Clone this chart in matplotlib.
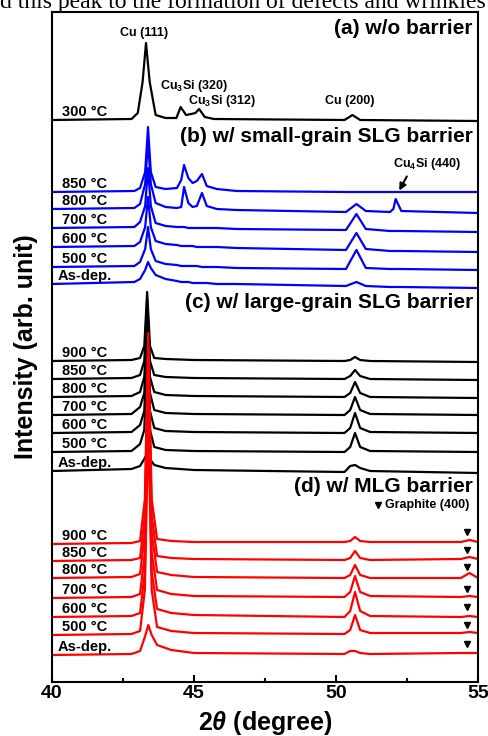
import matplotlib
matplotlib.use("Agg")
import matplotlib.pyplot as plt

plt.rcParams['font.family'] = ['Liberation Sans', 'DejaVu Sans']
plt.rcParams['font.weight'] = 'bold'
plt.rcParams['mathtext.fontset'] = 'custom'
plt.rcParams['mathtext.rm'] = 'Liberation Sans:bold'
plt.rcParams['mathtext.bf'] = 'Liberation Sans:bold'
plt.rcParams['mathtext.it'] = 'Liberation Sans:italic:bold'

# ---- data (2theta in degree, intensity in arb. unit) ----
# (a) w/o barrier
x_a = [40.0, 42.8, 43.02, 43.19, 43.31, 43.44, 43.65, 44.0, 44.38, 44.53, 44.72, 44.9,
       45.05, 45.18, 45.38, 45.7, 50.3, 50.58, 50.85, 55.0]
temps_a = ["300 °C"]
off_a = [562]
int_a = [[0, 1, 7, 38, 77, 38, 5, 2, 2, 13, 5, 6, 7, 11, 3, 1, 0, 5, 0, -1]]

# (b) w/ small-grain SLG barrier
x_b = [40.0, 42.9, 43.1, 43.28, 43.38, 43.48, 43.65, 44.0, 44.4,
       44.55, 44.65, 44.8, 44.95, 45.1, 45.28, 45.45, 45.8, 46.5,
       50.35, 50.72, 51.05, 51.9, 52.02, 52.1, 52.3, 55.0]
temps_b = ["850 °C", "800 °C", "700 °C", "600 °C", "500 °C", "As-dep."]
off_b = [490, 473, 454, 435, 415, 398]
int_b = [
    [0, 1, 4, 20, 65, 20, 5, 3, 4, 12, 27, 14, 9, 11, 18, 6, 3, 1, 0, 0, 0, 0, 0, 0, 0, 0],
    [0, 1, 5, 25, 69, 25, 6, 2, 1, 2, 22, 6, 2, 3, 16, 3, 0, -1, -3, 5, -2, -3, 0, 10, -2, -4],
    [0, 1, 6, 22, 60, 22, 5, 2, 1, 1, 1, 0, 0, 0, 0, 0, 0, -1, -2, 14, -1, -3, -3, -3, -3, -4],
    [0, 1, 5, 20, 50, 20, 6, 3, 2, 1, 1, 1, 1, 0, 0, 0, 0, -1, -3, 14, -2, -4, -4, -4, -4, -5],
    [0, 1, 5, 18, 40, 18, 6, 3, 2, 1, 1, 1, 1, 1, 0, 0, 0, -1, -2, 17, -1, -2, -2, -2, -2, -3],
    [0, 2, 5, 14, 22, 16, 9, 5, 3, 2, 2, 2, 1, 1, 1, 1, 0, 0, -2, 2, -2, -3, -3, -3, -3, -4],
]

# (c) w/ large-grain SLG barrier
x_c = [40.0, 42.8, 43.1, 43.25, 43.35, 43.45, 43.6, 44.0, 45.0,
       50.3, 50.5, 50.67, 50.85, 51.2, 55.0]
temps_c = ["900 °C", "850 °C", "800 °C", "700 °C", "600 °C", "500 °C", "As-dep."]
off_c = [321, 303, 285, 267, 249, 230, 211]
int_c = [
    [0, 1, 3, 15, 69, 15, 3, 2, 1, 0, 1, 4, 1, 0, -1],
    [0, 1, 4, 18, 80, 18, 4, 2, 1, 0, 3, 9, 3, 0, -1],
    [0, 1, 5, 20, 85, 20, 5, 2, 1, 0, 4, 15, 4, 0, -1],
    [0, 1, 8, 22, 90, 22, 5, 2, 1, 0, 5, 18, 5, 1, 0],
    [0, 1, 8, 22, 95, 22, 5, 2, 1, 0, 5, 20, 5, 1, 0],
    [0, 1, 8, 22, 100, 22, 5, 2, 1, 0, 5, 19, 5, 1, 0],
    [0, 2, 5, 12, 18, 12, 6, 3, 1, -1, 5, 6, 3, 0, -2],
]

# (d) w/ MLG barrier
x_d = [40.0, 42.8, 43.1, 43.27, 43.39, 43.51, 43.7, 44.2, 45.0,
       50.3, 50.5, 50.67, 50.85, 51.2, 54.4, 54.7, 55.0]
temps_d = ["900 °C", "850 °C", "800 °C", "700 °C", "600 °C", "500 °C", "As-dep."]
off_d = [138, 121, 104, 84, 65, 47, 27]
int_d = [
    [0, 1, 3, 45, 211, 45, 5, 3, 2, 2, 3, 7, 3, 2, 2, 4, 2],
    [0, 1, 3, 45, 214, 45, 5, 3, 2, 1, 3, 10, 3, 1, 2, 4, 2],
    [0, 1, 4, 45, 216, 45, 6, 3, 1, 0, 3, 13, 3, 0, 0, 5, 0],
    [0, 1, 4, 45, 216, 45, 8, 4, 2, 1, 6, 22, 6, 2, 1, 2, 1],
    [0, 1, 4, 45, 215, 45, 8, 4, 2, 0, 6, 25, 6, 1, 0, 1, 0],
    [0, 1, 4, 45, 213, 45, 8, 4, 2, 1, 5, 20, 5, 2, 2, 3, 2],
    [0, 1, 4, 18, 30, 20, 10, 5, 2, 1, 4, 4, 2, 1, 2, 2, 2],
]
graphite_x = 54.6
graphite_y = [150, 132, 115, 93, 75, 57, 38]

panels = [
    (x_a, temps_a, off_a, int_a, 'black', "(a) w/o barrier", 654),
    (x_b, temps_b, off_b, int_b, '#0000ff', "(b) w/ small-grain SLG barrier", 545),
    (x_c, temps_c, off_c, int_c, 'black', "(c) w/ large-grain SLG barrier", 379),
    (x_d, temps_d, off_d, int_d, '#ff0000', "(d) w/ MLG barrier", 196),
]

fig = plt.figure(figsize=(4.88, 7.36), dpi=100)
ax = fig.add_axes([52 / 488, 54 / 736, 426 / 488, 670 / 736])

for x, temps, offs, ints, color, title, ty in panels:
    for lab, off, yy in zip(temps, offs, ints):
        ax.plot(x, [off + v for v in yy], color=color, lw=1.6)
        ax.text(41.14, off + 8, lab, ha='center', va='center', fontsize=10.5,
                fontweight='bold')
    ax.text(54.82, ty, title, ha='right', va='center', fontsize=15, fontweight='bold')

# peak labels
ax.text(43.24, 649, "Cu (111)", ha='center', va='center', fontsize=9)
ax.text(45.0, 596, "Cu$_3$Si (320)", ha='center', va='center', fontsize=9)
ax.text(45.99, 581, "Cu$_3$Si (312)", ha='center', va='center', fontsize=9)
ax.text(50.49, 581, "Cu (200)", ha='center', va='center', fontsize=9)
ax.text(53.2, 518, "Cu$_4$Si (440)", ha='center', va='center', fontsize=9)
ax.annotate("", xy=(52.18, 489), xytext=(52.54, 508),
            arrowprops=dict(arrowstyle='-|>', color='black', lw=1.5, mutation_scale=10))

# graphite markers
ax.plot([graphite_x] * len(graphite_y), graphite_y, 'v', color='black', ms=5)
ax.plot([51.48], [177], 'v', color='black', ms=5)
ax.text(51.72, 177, "Graphite (400)", ha='left', va='center', fontsize=9)

ax.set_xlim(40, 55)
ax.set_ylim(0, 670)
ax.set_xticks([40, 45, 50, 55])
ax.set_xticks([42.5, 47.5, 52.5], minor=True)
ax.set_yticks([])
ax.tick_params(axis='x', which='major', direction='in', length=5, width=1.5,
               labelsize=14, pad=2)
ax.tick_params(axis='x', which='minor', direction='in', length=3, width=1.5)
for s in ax.spines.values():
    s.set_linewidth(1.5)
ax.set_xlabel(r"2$\theta$ (degree)", fontsize=18, fontweight='bold', labelpad=5)
ax.set_ylabel("Intensity (arb. unit)", fontsize=18, fontweight='bold', labelpad=10)

# cut-off line of running text above the figure
fig.text(0.0, 1 - 8 / 736, "d this peak to the formation of defects and wrinkles",
         family='Liberation Serif', fontsize=17, fontweight='normal',
         ha='left', va='baseline')

fig.savefig("out.png", dpi=100)
